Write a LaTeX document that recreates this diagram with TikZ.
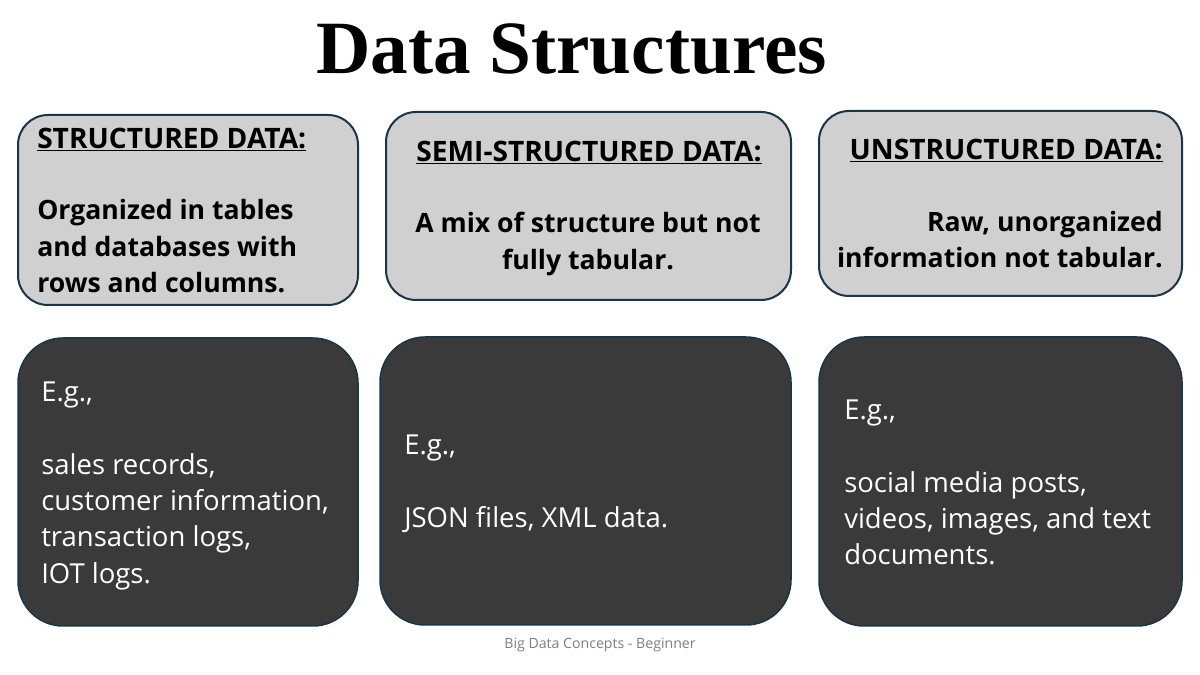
\documentclass[tikz,border=0pt]{standalone}
\usepackage{fontspec}
\setmainfont{Open Sans}
\newfontfamily\titlefont{Liberation Serif}
\usetikzlibrary{fit}
\definecolor{lightfill}{HTML}{D0D0D0}
\definecolor{darkfill}{HTML}{3A3A3A}
\definecolor{edgecol}{HTML}{1C3445}
\definecolor{footgray}{HTML}{7F7F7F}
\tikzset{
  topbox/.style={draw=edgecol, line width=1.6pt, fill=lightfill, rounded corners=24pt, inner sep=0pt},
  botbox/.style={draw=edgecol, line width=1.2pt, fill=darkfill, rounded corners=36pt, inner sep=0pt},
  hdr/.style={inner sep=0pt, font=\fontsize{22.5}{29}\selectfont\bfseries, text=black},
  bodyb/.style={inner sep=0pt, font=\fontsize{21.3}{29}\selectfont\bfseries, text=black},
  bodyw/.style={inner sep=0pt, font=\fontsize{22}{29}\selectfont, text=white},
}
\begin{document}
\begin{tikzpicture}[x=0.8pt,y=-0.8pt]
\useasboundingbox[fill=white] (0,0) rectangle (1200,675);
% title
\node[inner sep=0pt, anchor=base, font=\titlefont\fontsize{60.2}{70}\selectfont\bfseries] (title) at (571.5,74) {Data Structures};
% boxes
\coordinate (a1) at (18,115);  \coordinate (a2) at (358,305);
\coordinate (b1) at (386,112); \coordinate (b2) at (791,300);
\coordinate (c1) at (819,111); \coordinate (c2) at (1182,296);
\coordinate (d1) at (18,338);  \coordinate (d2) at (358,626);
\coordinate (e1) at (380,337); \coordinate (e2) at (791,625);
\coordinate (f1) at (819,337); \coordinate (f2) at (1182,626);
\node[topbox, fit=(a1)(a2)] (structured) {};
\node[topbox, fit=(b1)(b2)] (semi) {};
\node[topbox, fit=(c1)(c2)] (unstructured) {};
\node[botbox, fit=(d1)(d2)] (exstructured) {};
\node[botbox, fit=(e1)(e2)] (exsemi) {};
\node[botbox, fit=(f1)(f2)] (exunstructured) {};
% top-left
\node[hdr, anchor=base west] (h1) at (37,148.5) {\underline{STRUCTURED DATA:}};
\node[bodyb, anchor=base west] (t1) at (37,220) {\begin{tabular}[t]{@{}l@{}}Organized in tables\\ and databases with\\ rows and columns.\end{tabular}};
% top-middle
\node[hdr, anchor=base] (h2) at (589,161.5) {\underline{SEMI-STRUCTURED DATA:}};
\node[bodyb, anchor=base] (t2) at (588,233) {\begin{tabular}[t]{@{}c@{}}A mix of structure but not\\ fully tabular.\end{tabular}};
% top-right
\node[hdr, anchor=base east] (h3) at (1163,159.5) {\underline{UNSTRUCTURED DATA:}};
\node[bodyb, anchor=base east] (t3) at (1163,231.5) {\begin{tabular}[t]{@{}r@{}}Raw, unorganized\\ information not tabular.\end{tabular}};
% bottom
\node[bodyw, anchor=base west] (x1) at (41,402) {\begin{tabular}[t]{@{}l@{}}E.g.,\\ \\ sales records,\\ customer information,\\ transaction logs,\\ IOT logs.\end{tabular}};
\node[bodyw, anchor=base west] (x2) at (404,455) {\begin{tabular}[t]{@{}l@{}}E.g.,\\ \\ JSON files, XML data.\end{tabular}};
\node[bodyw, anchor=base west] (x3) at (844,420) {\begin{tabular}[t]{@{}l@{}}E.g.,\\ \\ social media posts,\\ videos, images, and text\\ documents.\end{tabular}};
% footer
\node[inner sep=0pt, anchor=base, text=footgray, font=\fontsize{11.3}{13}\selectfont] (foot) at (600,648) {Big Data Concepts - Beginner};
\end{tikzpicture}
\end{document}
